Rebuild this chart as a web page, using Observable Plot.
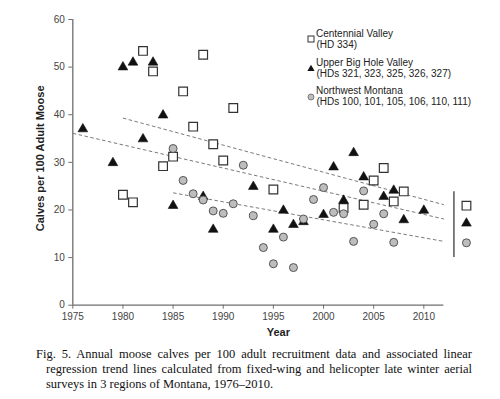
<!DOCTYPE html>
<html><head><meta charset="utf-8">
<script src="https://cdn.jsdelivr.net/npm/d3@7"></script>
<script src="https://cdn.jsdelivr.net/npm/@observablehq/plot@0.6"></script>
<style>
html,body{margin:0;padding:0;background:#fff;}
body{width:500px;height:399px;overflow:hidden;position:relative;font-family:"Liberation Sans",Arial,sans-serif;}
#chart{position:absolute;left:0;top:0;}
.lg{position:absolute;font-size:10px;line-height:11px;color:#222;white-space:nowrap;}
.lgsym{position:absolute;}
#caption{position:absolute;left:36px;top:347px;width:436px;font-family:"Liberation Serif","Times New Roman",serif;font-size:12.5px;line-height:15px;color:#111;}
#caption div{text-align:justify;text-align-last:justify;white-space:nowrap;}
#caption div.in{margin-left:10px;}
#caption div.last{text-align:left;text-align-last:left;}
</style>
</head><body>
<div id="chart"></div>
<div id="legend"></div>
<div id="caption"></div>
<script>
// ---- data ----
const regions = ["Centennial Valley", "Upper Big Hole Valley", "Northwest Montana"];
const regionSub = ["(HD 334)", "(HDs 321, 323, 325, 326, 327)", "(HDs 100, 101, 105, 106, 110, 111)"];

const centYears = [1980,1981,1982,1983,1984,1985,1986,1987,1988,1989,1990,1991,1995,2002,2004,2005,2006,2007,2008];
const centVals  = [23.2,21.6,53.4,49.1,29.2,31.2,44.9,37.5,52.6,33.8,30.4,41.4,24.3,20.4,21.1,26.2,28.8,21.8,23.9];

const ubhYears = [1976,1979,1980,1981,1982,1983,1984,1985,1988,1989,1993,1995,1996,1997,1998,2000,2001,2002,2003,2004,2006,2007,2008,2010];
const ubhVals  = [37.0,29.9,50.0,51.0,34.9,51.0,39.9,20.9,22.8,15.9,24.9,15.9,19.9,16.9,17.5,19.0,29.0,22.0,32.0,26.9,22.8,24.1,17.9,19.9];

const nwmYears = [1985,1986,1987,1988,1989,1990,1991,1992,1993,1994,1995,1996,1997,1998,1999,2000,2001,2002,2003,2004,2005,2006,2007];
const nwmVals  = [32.9,26.2,23.4,22.1,19.8,19.3,21.3,29.4,18.8,12.1,8.7,14.3,7.9,18.1,22.2,24.7,19.5,19.2,13.4,24.0,17.0,19.2,13.2];

// linear trend lines (endpoints)
const trendX1 = [1980, 1975, 1985];
const trendY1 = [39.3, 36.1, 23.6];
const trendX2 = [2012, 2012, 2012];
const trendY2 = [21.1, 18.1, 13.4];

// summary markers at right
const summaryYear = 2014.25;
const summaryVals = [20.9, 17.2, 13.1];
const summaryBarYear = 2013;
const summaryBar = [10.0, 23.8];

const xTicks = [1975,1980,1985,1990,1995,2000,2005,2010];
const yTicks = [0,10,20,30,40,50,60];
const xAxisEnd = 2012;

const yLabel = "Calves per 100 Adult Moose";
const xLabel = "Year";
const captionLines = [
  "Fig. 5. Annual moose calves per 100 adult recruitment data and associated linear",
  "regression trend lines calculated from fixed-wing and helicopter late winter aerial",
  "surveys in 3 regions of Montana, 1976\u20132010."
];

// ---- build ----
const cent = centYears.map((y,i)=>({year:y, v:centVals[i]}));
const ubh = ubhYears.map((y,i)=>({year:y, v:ubhVals[i]}));
const nwm = nwmYears.map((y,i)=>({year:y, v:nwmVals[i]}));
const trends = regions.map((r,i)=>({r, x1:trendX1[i], y1:trendY1[i], x2:trendX2[i], y2:trendY2[i]}));
const summary = regions.map((r,i)=>({r, year:summaryYear, v:summaryVals[i]}));

const axisColor = "#6e6e6e";
const sqStyle = {symbol:"square", r:4.9, fill:"white", stroke:"#333", strokeWidth:1.2};
const trStyle = {symbol:"triangle", r:3.6, fill:"#111", stroke:"#111", strokeWidth:0.6};
const ciStyle = {symbol:"circle", r:4, fill:"#bdbdbd", stroke:"#555", strokeWidth:1};

const chart = Plot.plot({
  width: 500, height: 345,
  marginLeft: 72.3, marginRight: 16.5, marginTop: 19, marginBottom: 40.3,
  x: {domain: [1975, 2016]},
  y: {domain: [0, 60]},
  style: {fontFamily: "Liberation Sans, Arial, sans-serif", fontSize: "10px", color: "#444", background: "white", overflow: "visible"},
  marks: [
    Plot.axisY({ticks: yTicks, tickSize: 4, tickPadding: 4, label: null, stroke: axisColor, fill: "#444"}),
    Plot.axisX({ticks: xTicks, tickSize: 4, tickPadding: 4, label: null, stroke: axisColor, fill: "#444", tickFormat: d => String(d)}),
    Plot.ruleY([0], {x1: 1975, x2: xAxisEnd, stroke: axisColor, strokeWidth: 1.3}),
    Plot.ruleX([1975], {y1: 0, y2: 60, stroke: axisColor, strokeWidth: 1.3}),
    Plot.link(trends, {x1: "x1", y1: "y1", x2: "x2", y2: "y2", stroke: "#7a7a7a", strokeWidth: 1, strokeDasharray: "3.5,2.5"}),
    Plot.ruleX([summaryBarYear], {y1: summaryBar[0], y2: summaryBar[1], stroke: "#555", strokeWidth: 1.5}),
    Plot.dot(cent, {x: "year", y: "v", ...sqStyle}),
    Plot.dot(ubh, {x: "year", y: "v", ...trStyle}),
    Plot.dot(nwm, {x: "year", y: "v", ...ciStyle}),
    Plot.dot(summary.slice(0,1), {x: "year", y: "v", ...sqStyle}),
    Plot.dot(summary.slice(1,2), {x: "year", y: "v", ...trStyle}),
    Plot.dot(summary.slice(2,3), {x: "year", y: "v", ...ciStyle}),
    Plot.text([yLabel], {text: d => d, frameAnchor: "left", dx: -32, dy: -4, rotate: -90, textAnchor: "middle", lineAnchor: "middle", fontWeight: "bold", fontSize: 11, fill: "#222"}),
    Plot.text([xLabel], {text: d => d, frameAnchor: "bottom", dy: 27.5, textAnchor: "middle", lineAnchor: "middle", fontWeight: "bold", fontSize: 11, fill: "#222"})
  ]
});
document.getElementById("chart").append(chart);

// ---- legend (HTML overlay) ----
const legend = document.getElementById("legend");
const rowTops = [[27.8, 38.8], [56.8, 67.8], [85.2, 96.2]];
const symSvg = [
  '<svg width="8" height="8"><rect x="1" y="1" width="6" height="6" fill="white" stroke="#333" stroke-width="1"/></svg>',
  '<svg width="8" height="8"><path d="M4,0.8 L7.6,7 L0.4,7 Z" fill="#111"/></svg>',
  '<svg width="8" height="8"><circle cx="4" cy="4" r="3" fill="#bdbdbd" stroke="#666" stroke-width="0.8"/></svg>'
];
regions.forEach((r, i) => {
  const s = document.createElement("div");
  s.className = "lgsym";
  s.style.left = "307px";
  s.style.top = (rowTops[i][0] + 1.5) + "px";
  s.innerHTML = symSvg[i];
  legend.append(s);
  const t1 = document.createElement("div");
  t1.className = "lg"; t1.style.left = "316px"; t1.style.top = rowTops[i][0] + "px";
  t1.textContent = r; legend.append(t1);
  const t2 = document.createElement("div");
  t2.className = "lg"; t2.style.left = "316.5px"; t2.style.top = rowTops[i][1] + "px";
  t2.textContent = regionSub[i]; legend.append(t2);
});

// ---- caption ----
const cap = document.getElementById("caption");
captionLines.forEach((l, i) => {
  const d = document.createElement("div");
  d.textContent = l;
  if (i > 0) d.classList.add("in");
  if (i === captionLines.length - 1) d.classList.add("last");
  cap.append(d);
});
</script>
</body></html>
